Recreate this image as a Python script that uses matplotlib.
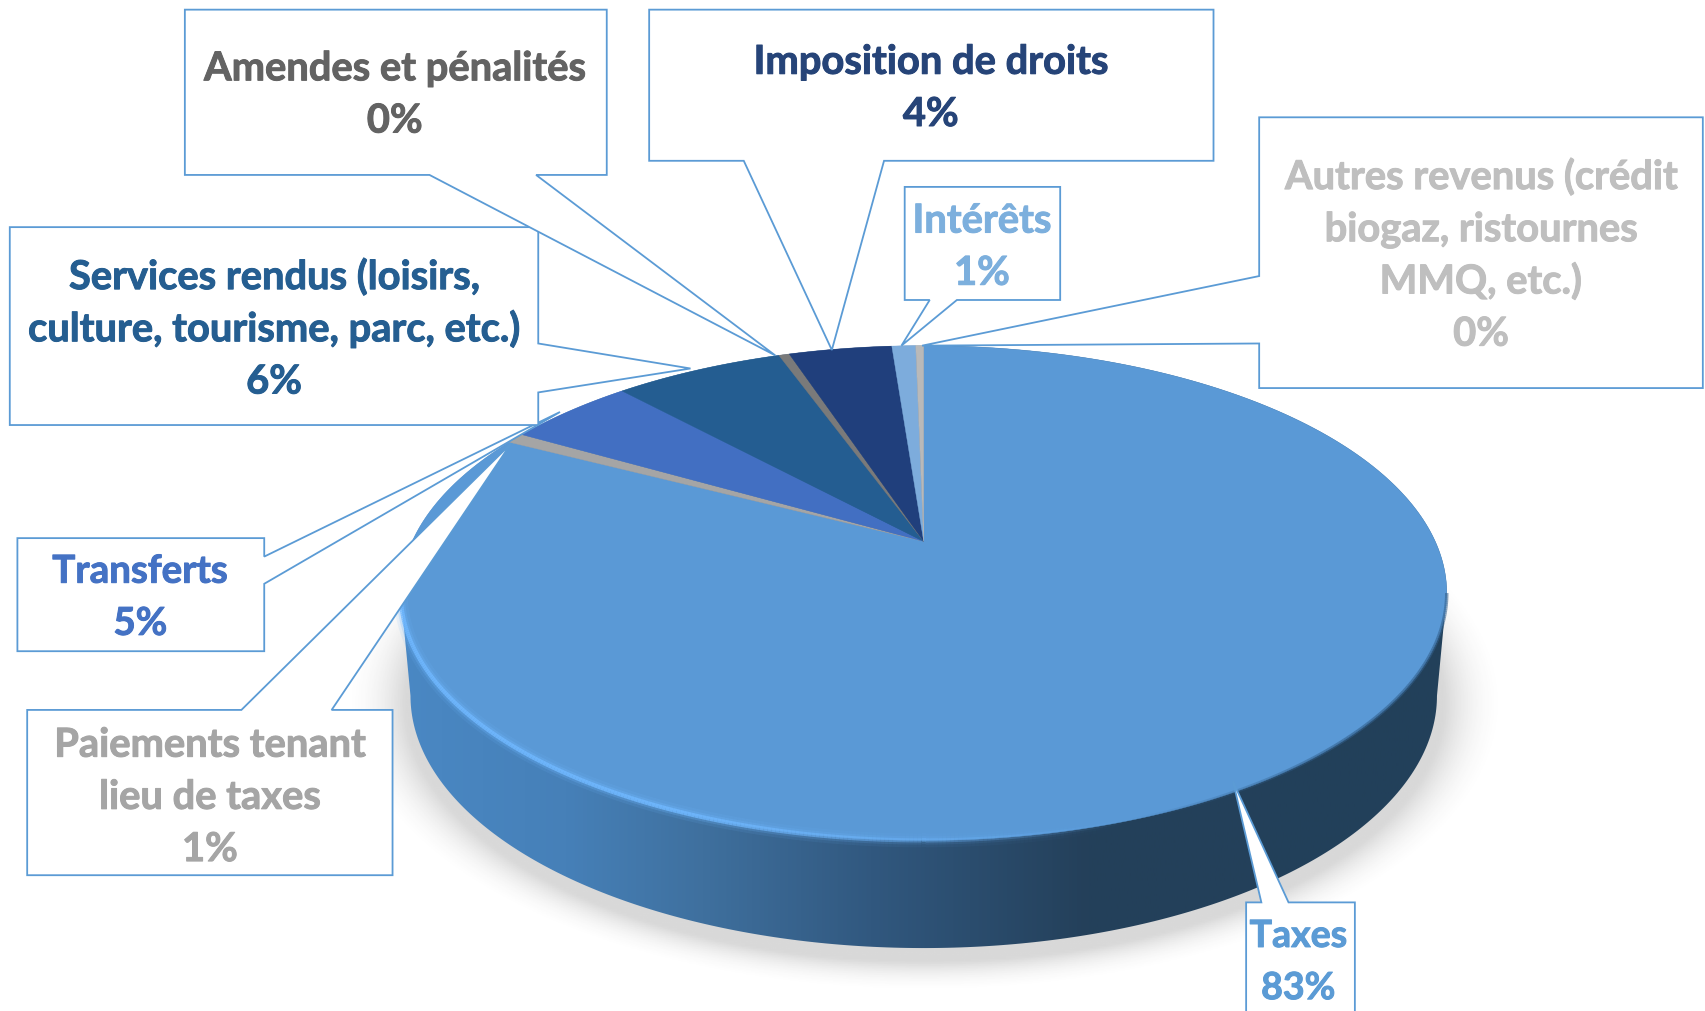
import numpy as np
import matplotlib
matplotlib.use('Agg')
import matplotlib.pyplot as plt
import matplotlib.patheffects as pe
from matplotlib.collections import LineCollection
from matplotlib.colors import LinearSegmentedColormap
from matplotlib.patches import Polygon

plt.rcParams['font.family'] = ['Lato', 'DejaVu Sans']

# values, clockwise from 12 o'clock
categories = ['Taxes', 'Paiements tenant\nlieu de taxes', 'Transferts',
              'Services rendus (loisirs,\nculture, tourisme, parc, etc.)',
              'Amendes et pénalités', 'Imposition de droits', 'Intérêts',
              'Autres revenus (crédit\nbiogaz, ristournes\nMMQ, etc.)']
values = [82.6, 0.7, 4.8, 6.4, 0.4, 3.9, 0.9, 0.3]
slice_colors = ['#5a99d6', '#a5a5a5', '#426fc2', '#245d91',
                '#7a7a7a', '#203f7c', '#7dacdc', '#b9b9b9']
text_colors = ['#5b9bd5', '#a5a5a5', '#4472c4', '#255e91',
               '#636363', '#264478', '#7cafdd', '#bfbfbf']
text_sizes = [27, 28.7, 27.7, 28.7, 28.7, 28.7, 28.7, 28.7]
LINE = '#5b9bd5'

# callout boxes: x0, y0, x1, y1, pointer base and tip, first baseline, text x
callouts = [
    ((1146, 830, 1246, 960), [(1160, 830), (1185, 830)], (1134, 719), 871, 1194),
    ((25, 653, 361, 805), [(222, 653), (305, 653)], (470, 408), 696, 193),
    ((16, 495, 243, 599), [(243, 512), (243, 537)], (515, 379), 536, 129),
    ((9, 209, 495, 391), [(495, 316), (495, 361)], (635, 339), 266, 252),
    ((170, 9, 558, 161), [(395, 161), (493, 161)], (713, 327), 74, 363),
    ((597, 9, 1116, 148), [(684, 148), (813, 148)], (765, 322), 68, 856),
    ((832, 172, 975, 276), [(855, 276), (880, 276)], (829, 318), 214, 903),
    ((1158, 108, 1566, 357), [(1158, 254), (1158, 316)], (848, 318), 174, 1362),
]

W, H = 1568, 1012 * 1568 / 1705
SHIFT = 0.8

# perspective of the pie top
APEX_X, APEX_Y = 849.5, 498
TOP, BOTTOM = 318, 773
ratio = (BOTTOM - APEX_Y) / (APEX_Y - TOP)
k = (ratio - 1) / (ratio + 1)
g = (APEX_Y - TOP) * (1 + k)
f = 481 * np.sqrt(1 - k ** 2)


def project(t):
    u, v = np.sin(t), np.cos(t)
    w = 1 + k * v
    return APEX_X + f * u / w, APEX_Y - g * v / w


def ellipse(cx, cy, rx, ry, t):
    return cx + rx * np.cos(t), cy + ry * np.sin(t)


fig = plt.figure(figsize=(17.05, 10.12), dpi=100)
ax = fig.add_axes([0, 0, 1, 1])
ax.axis('off')

# soft shadow
xx, yy = np.meshgrid(np.arange(0, W, 2.0), np.arange(0, H, 2.0))
d = np.sqrt(((xx - 849.5) / 478) ** 2 + ((yy - 647) / 238) ** 2)
dist = (d - 1) * 235
alpha = 0.2 * np.clip(1 - dist / 28, 0, 1) ** 2
shadow = np.zeros(xx.shape + (4,))
shadow[..., :3] = 0.25
shadow[..., 3] = alpha
ax.imshow(shadow, extent=(0, W, H, 0), zorder=1, aspect='auto')

# side of the disc
t = np.linspace(0, np.pi, 240)
bx, by = ellipse(849.5, 640, 472, 232, t)
tx, ty = ellipse(849.5, 545.5, 481, 227.5, np.linspace(np.pi, 2 * np.pi, 240))
hull = Polygon(np.column_stack([np.r_[bx, tx], np.r_[by, ty]]), closed=True,
               fc='none', ec='none', transform=ax.transData)
ax.add_patch(hull)
side_cmap = LinearSegmentedColormap.from_list(
    'side', [(0.0, '#4a88c4'), (0.16, '#4680b8'), (0.29, '#3f709e'),
             (0.45, '#31587f'), (0.655, '#24405a'), (1.0, '#22405a')])
grad = ax.imshow(np.linspace(0, 1, 512)[None, :], cmap=side_cmap, aspect='auto',
                 extent=(365, 1335, 900, 300), zorder=2)
grad.set_clip_path(hull)
ax.set_xlim(0, W)
ax.set_ylim(H - SHIFT, -SHIFT)

# top face
fractions = np.array(values) / sum(values)
start = 0.0
for frac, col in zip(fractions, slice_colors):
    th = np.linspace(start, start + frac, max(int(frac * 720), 4)) * 2 * np.pi
    px, py = project(th)
    ax.add_patch(Polygon(np.column_stack([np.r_[APEX_X, px], np.r_[APEX_Y, py]]),
                         closed=True, fc=col, ec=col, lw=0.3, zorder=3))
    start += frac

# bright rim on the front left, darker rim on the right
rim_t = np.linspace(np.pi, 0, 400)
rx_, ry_ = ellipse(849.5, 545.5, 481, 227.5, rim_t)
pts = np.column_stack([rx_, ry_])
segs = np.stack([pts[:-1], pts[1:]], axis=1)
mid = (rx_[:-1] + rx_[1:]) / 2
glow = np.clip((1040 - mid) / 420, 0, 1)
bright = np.zeros((len(mid), 4))
bright[:, :3] = matplotlib.colors.to_rgb('#70b8ff')
for width, a in [(10, 0.12), (6, 0.25), (3, 0.85)]:
    c = bright.copy()
    c[:, 3] = glow * a
    ax.add_collection(LineCollection(segs, colors=c, linewidths=width, zorder=4))
dark = np.zeros((len(mid), 4))
dark[:, :3] = matplotlib.colors.to_rgb('#33608c')
dark[:, 3] = np.clip((mid - 1040) / 200, 0, 1) * 0.6
ax.add_collection(LineCollection(segs, colors=dark, linewidths=2.5, zorder=4))

# callouts with their pointers, in series order
for i, (box, base, tip, baseline, text_x) in enumerate(callouts):
    x0, y0, x1, y1 = box
    z = 5 + i
    if base[0][1] == y0:
        outline = [(x0, y0), base[0], tip, base[1], (x1, y0), (x1, y1), (x0, y1)]
    elif base[0][1] == y1:
        outline = [(x0, y0), (x1, y0), (x1, y1), base[1], tip, base[0], (x0, y1)]
    elif base[0][0] == x1:
        outline = [(x0, y0), (x1, y0), base[0], tip, base[1], (x1, y1), (x0, y1)]
    else:
        outline = [(x0, y0), (x1, y0), (x1, y1), (x0, y1), base[1], tip, base[0]]
    ax.add_patch(Polygon(outline, closed=True, fc='white', ec=LINE, lw=1.3,
                         joinstyle='miter', zorder=z))
    lines = categories[i].split('\n') + ['%.0f%%' % values[i]]
    for n, line in enumerate(lines):
        ax.text(text_x, baseline + 48 * n, line, color=text_colors[i], fontsize=text_sizes[i],
                fontweight='bold', ha='center', va='baseline', zorder=z,
                path_effects=[pe.withStroke(linewidth=0.7, foreground=text_colors[i])])

fig.savefig('out.png', dpi=100, facecolor='white')
